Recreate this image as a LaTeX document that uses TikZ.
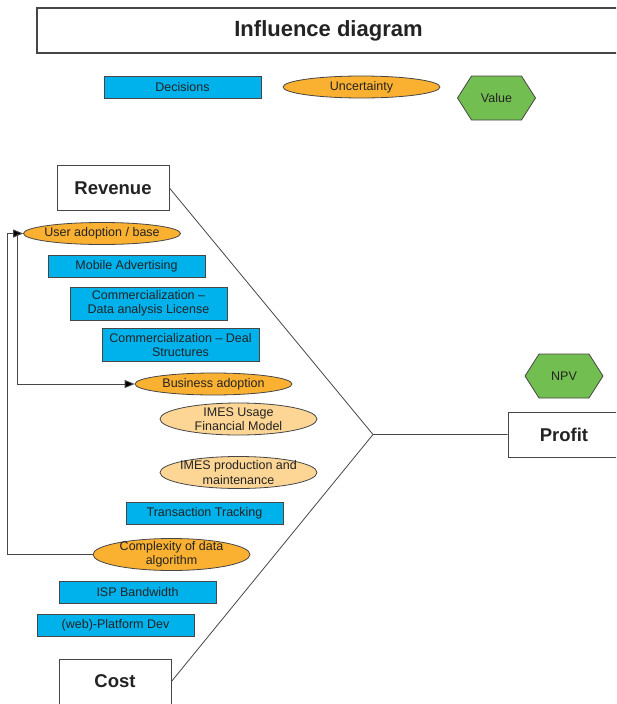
\documentclass[tikz,border=0pt]{standalone}
\usepackage{fontspec}
\setmainfont{Liberation Sans}
\usetikzlibrary{shapes.geometric,shapes.symbols,arrows.meta}
\definecolor{decblue}{RGB}{0,178,236}
\definecolor{chanceorange}{RGB}{250,176,48}
\definecolor{lightorange}{RGB}{253,214,150}
\definecolor{valgreen}{RGB}{114,190,80}
\definecolor{edgegray}{RGB}{70,70,70}
\definecolor{inkgray}{RGB}{35,35,35}
\tikzset{
  lbl/.style={font=\fontsize{12.5}{14.5}\selectfont, text=inkgray, align=center, inner sep=0pt},
  decision/.style={lbl, draw=edgegray, line width=0.9pt, fill=decblue, minimum width=157pt, minimum height=22pt},
  decision2/.style={decision, minimum height=33pt},
  % ellipse of fixed size; its text sits on top as a centred label
  chance/.style={ellipse, draw=edgegray, line width=0.8pt, fill=chanceorange, minimum width=157pt, minimum height=22pt, inner sep=0pt, label={[lbl]center:{#1}}},
  chance2/.style={chance={#1}, minimum height=32pt},
  chancelight/.style={chance2={#1}, fill=lightorange},
  valuenode/.style={lbl, shape=signal, signal to=east and west, signal pointer angle=115, draw=edgegray, line width=0.8pt, fill=valgreen, minimum width=78pt, minimum height=44pt},
  frame/.style={draw=edgegray, line width=0.9pt, fill=white, minimum width=112pt, minimum height=45pt, inner sep=0pt, text=inkgray, font=\bfseries\fontsize{18.5}{22}\selectfont},
  link/.style={draw=edgegray, line width=0.8pt},
  flow/.style={draw=edgegray, line width=0.9pt, -{Triangle[length=10pt,width=8pt,fill=black]}}
}
\begin{document}
\begin{tikzpicture}[x=1pt,y=-1pt]
\useasboundingbox (0,0) rectangle (616,704);
\clip (0,0) rectangle (616,704);

% title and legend
\node[frame, minimum width=583pt, line width=1.2pt, font=\bfseries\fontsize{22}{26}\selectfont] (title) at (328.5,30.5) {Influence diagram};
\node[decision] (legdec) at (182.5,87) {Decisions};
\node[chance={Uncertainty}] (legunc) at (361.5,87) {};
\node[valuenode] (legval) at (496.5,98) {Value};

% outcome nodes
\node[frame] (rev) at (113,188) {Revenue};
\node[frame] (cost) at (115,681.5) {Cost};
\node[frame] (profit) at (564,434.5) {Profit};
\node[valuenode] (npv) at (564,376) {NPV};
\coordinate (junc) at (373,434.5);

% revenue drivers
\node[chance={User adoption / base}] (user) at (102,233.5) {};
\node[decision] (mobile) at (126.5,266) {Mobile Advertising};
\node[decision2] (commlic) at (148.5,303.5) {Commercialization –\\Data analysis License};
\node[decision2] (commdeal) at (180.5,345) {Commercialization – Deal\\Structures};
\node[chance={Business adoption}] (biz) at (213.5,384) {};
\node[chancelight={IMES Usage\\Financial Model}] (usage) at (238.5,419) {};

% cost drivers
\node[chancelight={IMES production and\\maintenance}] (prod) at (238.5,472.5) {};
\node[decision] (track) at (204.5,513) {Transaction Tracking};
\node[chance2={Complexity of data\\algorithm}] (cplx) at (171.5,554.5) {};
\node[decision] (isp) at (137.5,592) {ISP Bandwidth};
\node[decision] (web) at (115.5,625.5) {(web)-Platform Dev};

% aggregation into profit
\draw[link] (rev.east) -- (junc) -- (profit.west);
\draw[link] (cost.east) -- (junc);

% feedback arrows
\draw[flow] (cplx.west) -| ([xshift=-16pt]user.west) -- (user.west);
\draw[flow] ([xshift=-6pt]user.west) |- (biz.west);
\end{tikzpicture}
\end{document}
